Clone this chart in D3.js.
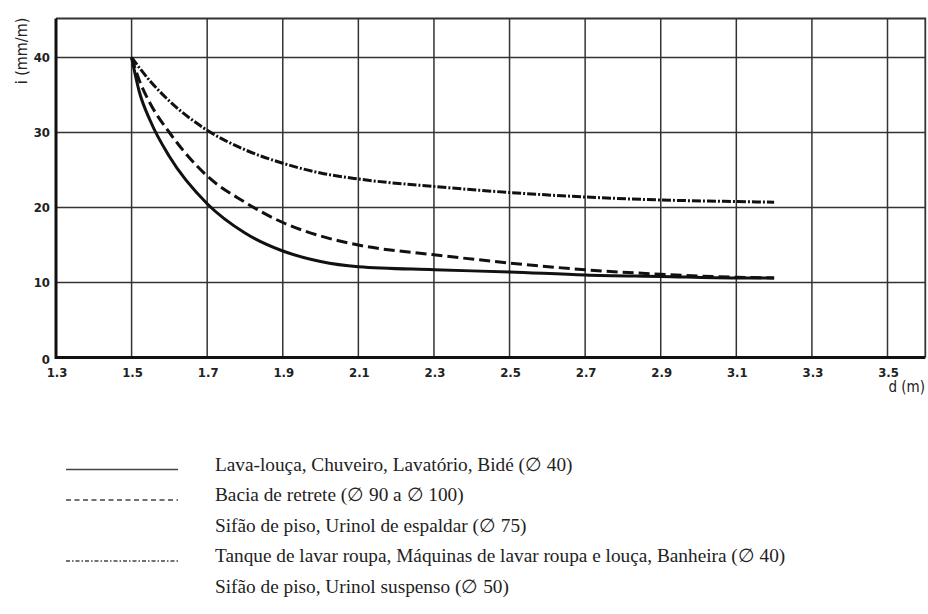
<!DOCTYPE html>
<html>
<head>
<meta charset="utf-8">
<script src="https://cdn.jsdelivr.net/npm/d3@7"></script>
<style>
  body { margin: 0; background: #fff; }
  .tick-lbl { font-family: "DejaVu Sans Condensed", "DejaVu Sans", sans-serif; font-stretch: condensed; font-size: 13px; font-weight: 600; fill: #222; }
  .legend-lbl { font-family: "Liberation Serif", "DejaVu Serif", serif; font-size: 19.3px; fill: #222; }
</style>
</head>
<body>
<div id="chart"></div>
<script>
// d (m) values and slopes i (mm/m)
var dSolid   = [1.5, 1.52, 1.55, 1.6, 1.7, 1.8, 1.9, 2.0, 2.1, 2.3, 2.5, 2.7, 2.9, 3.1, 3.2];
var iSolid   = [40, 35.5, 31.5, 26.8, 20.5, 16.6, 14.2, 12.8, 12.1, 11.7, 11.4, 11.0, 10.8, 10.6, 10.6];
var dDashed  = [1.5, 1.52, 1.55, 1.6, 1.7, 1.8, 1.9, 2.0, 2.1, 2.3, 2.5, 2.7, 2.9, 3.1, 3.2];
var iDashed  = [40, 37.0, 33.8, 30.0, 24.2, 20.7, 18.0, 16.2, 15.0, 13.7, 12.6, 11.7, 11.1, 10.7, 10.6];
var dDashDot = [1.5, 1.55, 1.6, 1.7, 1.8, 1.9, 2.0, 2.1, 2.3, 2.5, 2.7, 2.9, 3.1, 3.2];
var iDashDot = [40, 36.8, 34.2, 30.3, 27.7, 25.9, 24.6, 23.8, 22.8, 22.0, 21.4, 21.0, 20.8, 20.7];

var xTicks = [1.3, 1.5, 1.7, 1.9, 2.1, 2.3, 2.5, 2.7, 2.9, 3.1, 3.3, 3.5];
var yTicks = [0, 10, 20, 30, 40];

var legendLabels = [
  "Lava-louça, Chuveiro, Lavatório, Bidé (\u2205 40)",
  "Bacia de retrete (\u2205 90 a \u2205 100)",
  "Sifão de piso, Urinol de espaldar (\u2205 75)",
  "Tanque de lavar roupa, Máquinas de lavar roupa e louça, Banheira (\u2205 40)",
  "Sifão de piso, Urinol suspenso (\u2205 50)"
];
var legendStyle = ["solid", "dashed", null, "dashdot", null];

var width = 928, height = 614;
var svg = d3.select("#chart").append("svg")
    .attr("width", width)
    .attr("height", height);

var x = d3.scaleLinear().domain([1.3, 3.5]).range([56, 887.5]);
var y = d3.scaleLinear().domain([0, 40]).range([357.5, 57.5]);
var xMax = 3.6, yMax = 45.2;

// grid
svg.append("g").selectAll("line").data(xTicks.slice(1)).enter()
    .append("line")
    .attr("x1", function(d) { return x(d); })
    .attr("x2", function(d) { return x(d); })
    .attr("y1", y(0))
    .attr("y2", y(yMax))
    .attr("stroke", "#333")
    .attr("stroke-width", 1.5);

svg.append("g").selectAll("line").data(yTicks.slice(1)).enter()
    .append("line")
    .attr("x1", x(1.3))
    .attr("x2", x(xMax))
    .attr("y1", function(d) { return y(d); })
    .attr("y2", function(d) { return y(d); })
    .attr("stroke", "#333")
    .attr("stroke-width", 1.5);

// frame: top and right thin, left and bottom heavy
svg.append("path")
    .attr("d", "M" + x(1.3) + "," + y(yMax) + "H" + x(xMax) + "V" + y(0))
    .attr("fill", "none")
    .attr("stroke", "#333")
    .attr("stroke-width", 1.8);
svg.append("path")
    .attr("d", "M" + x(1.3) + "," + y(yMax) + "V" + y(0) + "H" + x(xMax))
    .attr("fill", "none")
    .attr("stroke", "#111")
    .attr("stroke-width", 3);

// tick labels
svg.append("g").selectAll("text").data(xTicks).enter()
    .append("text")
    .attr("class", "tick-lbl")
    .attr("x", function(d) { return x(d) + 1; })
    .attr("y", 377)
    .attr("text-anchor", "middle")
    .text(function(d) { return d.toFixed(1); });

svg.append("g").selectAll("text").data(yTicks).enter()
    .append("text")
    .attr("class", "tick-lbl")
    .attr("x", 50)
    .attr("y", function(d) { return y(d) + (d === 0 ? 6 : 4.5); })
    .attr("text-anchor", "end")
    .text(function(d) { return d; });

svg.append("text")
    .attr("class", "tick-lbl")
    .attr("x", 925)
    .attr("y", 392)
    .attr("text-anchor", "end")
    .style("font-size", "15px")
    .style("font-weight", 400)
    .text("d (m)");

svg.append("text")
    .attr("class", "tick-lbl")
    .attr("transform", "translate(27,51) rotate(-90)")
    .attr("text-anchor", "middle")
    .style("font-size", "16px")
    .style("font-weight", 400)
    .text("i (mm/m)");

// curves
var line = d3.line()
    .x(function(d) { return x(d[0]); })
    .y(function(d) { return y(d[1]); })
    .curve(d3.curveMonotoneX);

var curves = [
  { pts: d3.zip(dSolid, iSolid), dash: null },
  { pts: d3.zip(dDashed, iDashed), dash: "11,5" },
  { pts: d3.zip(dDashDot, iDashDot), dash: "9,2,2,2" }
];

svg.append("g").selectAll("path").data(curves).enter()
    .append("path")
    .attr("d", function(d) { return line(d.pts); })
    .attr("fill", "none")
    .attr("stroke", "#111")
    .attr("stroke-width", 3)
    .attr("stroke-dasharray", function(d) { return d.dash; });

// legend
var rowY = function(i) { return 470.5 + i * 30.5; };
var dashFor = { solid: null, dashed: "5,3.5", dashdot: "4,2,1.5,2" };

svg.append("g").selectAll("line").data(legendStyle.map(function(s, i) { return { s: s, i: i }; })
    .filter(function(d) { return d.s; })).enter()
    .append("line")
    .attr("x1", 66)
    .attr("x2", 178)
    .attr("y1", function(d) { return rowY(d.i) - 1; })
    .attr("y2", function(d) { return rowY(d.i) - 1; })
    .attr("stroke", "#444")
    .attr("stroke-width", 1.3)
    .attr("stroke-dasharray", function(d) { return dashFor[d.s]; });

svg.append("g").selectAll("text").data(legendLabels).enter()
    .append("text")
    .attr("class", "legend-lbl")
    .attr("x", 215)
    .attr("y", function(d, i) { return rowY(i); })
    .text(function(d) { return d; });
</script>
</body>
</html>
